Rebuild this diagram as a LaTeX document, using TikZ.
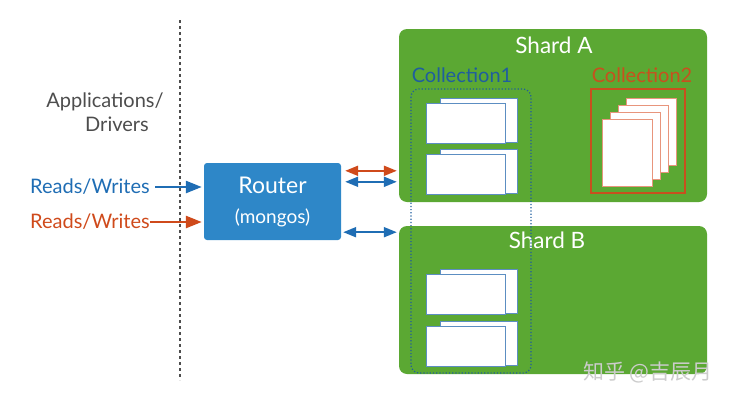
\documentclass[tikz,border=0pt]{standalone}
\usepackage{fontspec}
\setmainfont{Lato}
\newfontfamily\cjkfont{Noto Sans CJK SC}
\usetikzlibrary{arrows.meta,calc}

\definecolor{rwblue}{HTML}{1F6DB4}
\definecolor{rwred}{HTML}{CF4A1B}
\definecolor{routerblue}{HTML}{2E87C8}
\definecolor{shardgreen}{HTML}{5BA833}
\definecolor{collblue}{HTML}{1F5E9E}
\definecolor{collred}{HTML}{C8501E}
\definecolor{docedge}{HTML}{5C8EC2}
\definecolor{pageedge}{HTML}{E8957C}
\definecolor{textgray}{HTML}{4D4D4D}

\begin{document}
\begin{tikzpicture}[x=1pt,y=-1pt,
                   shard/.style={fill=shardgreen,rounded corners=8pt,minimum width=308pt,inner sep=0pt},
                   doc/.style={draw=docedge,fill=white,line width=0.9pt},
                   page/.style={draw=pageedge,fill=white,line width=0.9pt},
                   rw/.style={anchor=east,inner sep=0pt},
                   feed/.style={-{Triangle[length=16pt,width=12pt]},line width=2.6pt},
                   link/.style={{Triangle[length=13pt,width=10pt]}-{Triangle[length=13pt,width=10pt]},line width=2pt},
                   every node/.style={font=\fontsize{20}{23}\selectfont}]
\useasboundingbox (0,0) rectangle (737,402);
% client side
\draw[textgray,line width=1.5pt,dash pattern=on 3pt off 3pt] (180,20) -- (180,380);
\node[textgray] (apps) at (105,102) {Applications/};
\node[textgray] (drivers) at (117,124) {Drivers};
\node[rw,text=rwblue] (rwA) at (150,187) {Reads/Writes};
\node[rw,text=rwred] (rwB) at (150,222) {Reads/Writes};
% router
\node[fill=routerblue,rounded corners=3pt,minimum width=137pt,minimum height=77pt,
      text=white,align=center] (router) at (272.5,201.5)
  {{\fontsize{23}{28}\selectfont Router}\\[7pt]{\fontsize{19}{22}\selectfont (mongos)}};
\draw[feed,rwblue,shorten <=5pt,shorten >=2pt] (rwA) -- (rwA -| router.west);
\draw[feed,rwred,shorten >=2pt] (rwB) -- (rwB -| router.west);
% shards
\node[shard,minimum height=173pt] (shardA) at (553,115.5) {};
\node[shard,minimum height=148pt] (shardB) at (553,300) {};
\node[white,font=\fontsize{22.5}{26}\selectfont] (nameA) at (554,45) {Shard A};
\node[white,font=\fontsize{22.5}{26}\selectfont] (nameB) at (547,240) {Shard B};
\draw[link,rwred] ($(router.north east)+(4,8)$) -- ($(router.north east -| shardA.west)+(-2,8)$);
\draw[link,rwblue] ($(router.north east)+(4,19)$) -- ($(router.north east -| shardA.west)+(-2,19)$);
\draw[link,rwblue] ($(router.south east)+(2,-8)$) -- ($(router.south east -| shardB.west)+(-2,-8)$);
% collection 1
\node[text=collblue] (coll1) at (462,75) {Collection1};
\foreach \y in {98,149,269,321}{
  \draw[doc] (440,\y) rectangle (517,\y+44);
  \draw[doc] (426,\y+5) rectangle (505,\y+45);
}
\draw[collblue,dotted,line width=1.2pt,rounded corners=8pt] (411,89) rectangle (531,373);
% collection 2
\node[text=collred] (coll2) at (642,75) {Collection2};
\draw[collred,line width=1.2pt] (591,89) rectangle (685,193);
\foreach \i in {3,2,1,0}{
  \draw[page] (602+8*\i,119-7*\i) rectangle (652+8*\i,186-7*\i);
}
\node[white!80!black,font=\cjkfont\fontsize{21}{24}\selectfont] (mark) at (648,372) {知乎 @吉辰月};
\end{tikzpicture}
\end{document}
